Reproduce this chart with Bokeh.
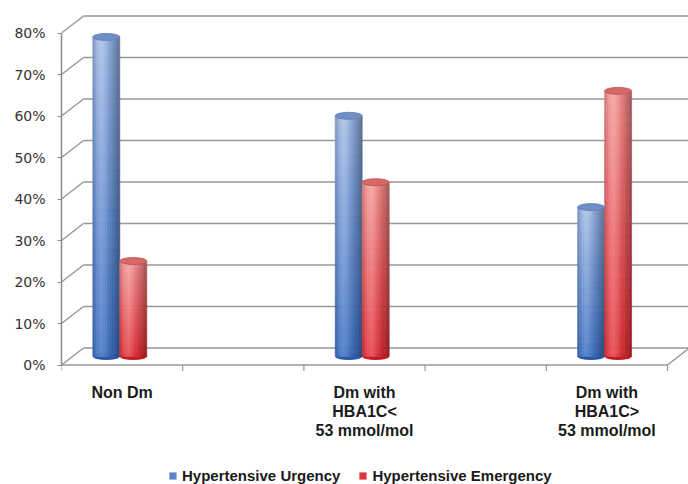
import numpy as np
from bokeh.plotting import figure
from bokeh.models import (Range1d, FixedTicker, PrintfTickFormatter, Legend,
                          LegendItem, ColumnDataSource)
from bokeh.core.properties import value
from bokeh.embed import file_html
from bokeh.resources import INLINE

# ---------------- data ----------------
categories = ["Non Dm", "Dm with\nHBA1C<\n53 mmol/mol", "Dm with\nHBA1C>\n53 mmol/mol"]
category_slots = [0, 2, 4]          # category positions on a 5-slot axis
n_slots = 5
series_names = ["Hypertensive Urgency", "Hypertensive Emergency"]
urgency = [77, 58, 36]
emergency = [23, 42, 64]
y_ticks = [0, 10, 20, 30, 40, 50, 60, 70, 80]

# ---------------- geometry (pixel scales) ----------------
W, H = 688, 484
PX_X = 121.2      # px per category slot
PX_Y = 4.15       # px per percent
FRAME_LEFT, FRAME_TOP, FRAME_RIGHT, FRAME_BOTTOM = 61, 0, W, H
ZERO_Y = 364.5    # y of front 0%
DX = 22 / PX_X    # depth offset (to the back wall)
DY = 17 / PX_Y

def ypx(py):
    return (ZERO_Y - py) / PX_Y

x_end = (FRAME_RIGHT - FRAME_LEFT) / PX_X
p = figure(width=W, height=H, output_backend="svg", toolbar_location=None,
           x_range=Range1d(0, x_end), y_range=Range1d(ypx(FRAME_BOTTOM), ypx(FRAME_TOP)),
           x_axis_location=None, min_border_left=FRAME_LEFT, min_border_right=0,
           min_border_top=0, min_border_bottom=0, outline_line_color=None)
p.xgrid.visible = False
p.ygrid.visible = False

ax = p.yaxis[0]
ax.ticker = FixedTicker(ticks=y_ticks)
ax.formatter = PrintfTickFormatter(format="%d%%")
ax.bounds = (0, 80)
ax.axis_line_color = "#8f8a86"
ax.axis_line_width = 1.5
ax.major_tick_line_color = "#8f8a86"
ax.major_tick_out = 4
ax.major_tick_in = 0
ax.minor_tick_line_color = None
ax.major_label_standoff = 12
ax.major_label_text_font = "DejaVu Sans"
ax.major_label_text_font_size = "14px"
ax.major_label_text_color = "#333333"

GRID = "#9b9691"
# back-wall gridlines
p.segment(x0=[DX] * len(y_ticks), y0=[t + DY for t in y_ticks],
          x1=[x_end] * len(y_ticks), y1=[t + DY for t in y_ticks],
          line_color=GRID, line_width=1.6)
# side-wall diagonals
p.segment(x0=[0] * len(y_ticks), y0=y_ticks, x1=[DX] * len(y_ticks),
          y1=[t + DY for t in y_ticks], line_color=GRID, line_width=1.4)
# floor front edge, right edge
p.segment(x0=[0, n_slots], y0=[0, 0], x1=[n_slots, n_slots + DX], y1=[0, DY],
          line_color=GRID, line_width=1.4)
# category ticks
tick_xs = list(range(0, n_slots + 1))
p.segment(x0=tick_xs, y0=[0] * len(tick_xs), x1=tick_xs,
          y1=[-6 / PX_Y] * len(tick_xs), line_color=GRID, line_width=1.2)

# ---------------- cylinders ----------------
BAR_W = 27 / PX_X
SHIFT = -2.3 / PX_X
BASE = DY / 2
NC, NR = 16, 24

pal = {
    0: dict(tb=(132, 160, 206), th=(178, 198, 234), bb=(52, 100, 178), bh=(88, 132, 204),
            top=(112, 142, 198), top_line="#5d7cb4", bottom=(44, 88, 164)),
    1: dict(tb=(228, 126, 126), th=(245, 170, 168), bb=(210, 38, 46), bh=(232, 86, 92),
            top=(214, 104, 104), top_line="#bf4e4e", bottom=(190, 30, 38)),
}

def hexc(c):
    return "#%02x%02x%02x" % tuple(int(max(0, min(255, round(v)))) for v in c)

cells = dict(left=[], right=[], top=[], bottom=[], color=[])
ell = {0: dict(x=[], y=[]), 1: dict(x=[], y=[])}
for s, vals in enumerate([urgency, emergency]):
    P = pal[s]
    for slot, v in zip(category_slots, vals):
        cx = slot + 0.5 + SHIFT + (-0.5 if s == 0 else 0.5) * BAR_W
        ell[s]["x"].append(cx)
        ell[s]["y"].append(v + BASE)
        for j in range(NC):
            u = (j + 0.5) / NC
            hl = np.exp(-((u - 0.33) / 0.24) ** 2)
            dk = 0.30 * max(0.0, (u - 0.55) / 0.45) ** 1.6 + 0.10 * max(0.0, (0.15 - u) / 0.15)
            for i in range(NR):
                t = (i + 0.5) / NR
                base = [P["bb"][k] + (P["tb"][k] - P["bb"][k]) * t for k in range(3)]
                high = [P["bh"][k] + (P["th"][k] - P["bh"][k]) * t for k in range(3)]
                col = [(base[k] + (high[k] - base[k]) * hl) * (1 - dk) for k in range(3)]
                cells["left"].append(cx - BAR_W / 2 + j * BAR_W / NC)
                cells["right"].append(cx - BAR_W / 2 + (j + 1) * BAR_W / NC)
                cells["bottom"].append(BASE + v * i / NR)
                cells["top"].append(BASE + v * (i + 1) / NR)
                cells["color"].append(hexc(col))

for s in (0, 1):
    p.ellipse(x=ell[s]["x"], y=[BASE] * 3, width=BAR_W, height=7, height_units="screen",
              fill_color=hexc(pal[s]["bottom"]), line_color=None)
p.quad(left="left", right="right", top="top", bottom="bottom", fill_color="color",
       line_color="color", line_width=0.6, source=ColumnDataSource(cells))
for s in (0, 1):
    p.ellipse(x=ell[s]["x"], y=ell[s]["y"], width=BAR_W, height=7, height_units="screen",
              fill_color=hexc(pal[s]["top"]), line_color=pal[s]["top_line"], line_width=0.8)

# ---------------- category labels ----------------
lab_x = [s + 0.5 for s in category_slots]
lab_y = [ypx(392) if "\n" not in c else ypx(411) for c in categories]
p.text(x=lab_x, y=lab_y, text=categories, text_align="center", text_baseline="middle",
       text_font=value("Liberation Sans"), text_font_style="bold", text_font_size="16px",
       text_color="#1a1a1a", text_line_height=1.13)

# ---------------- legend ----------------
off = -10  # legend swatch renderers sit outside the visible range
r_u = p.quad(left=[off], right=[off + 0.1], top=[off], bottom=[off - 0.1],
             fill_color="#5a84c6", line_color=None)
r_e = p.quad(left=[off], right=[off + 0.1], top=[off], bottom=[off - 0.1],
             fill_color="#e0333e", line_color=None)
legend = Legend(items=[LegendItem(label=series_names[0], renderers=[r_u]),
                       LegendItem(label=series_names[1], renderers=[r_e])],
                orientation="horizontal", location=(107, 0), padding=0, margin=0,
                spacing=18, label_standoff=5, glyph_width=9, glyph_height=9,
                label_height=9, border_line_color=None, background_fill_alpha=0,
                label_text_font="Liberation Sans", label_text_font_style="bold",
                label_text_font_size="15px", label_text_color="#1a1a1a")
p.add_layout(legend)

open("out.html", "w").write(file_html(p, INLINE))
